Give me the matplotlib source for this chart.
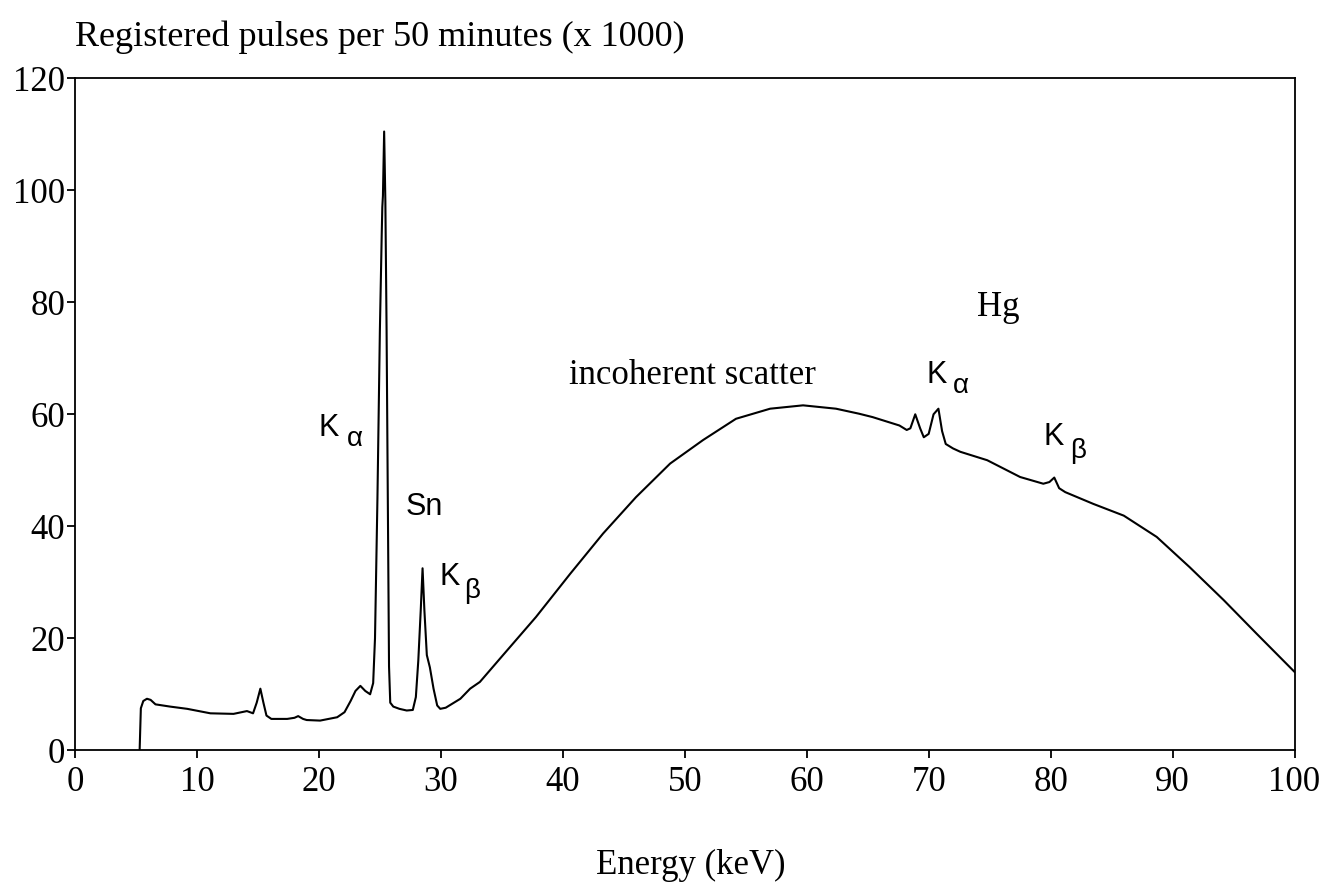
import numpy as np
import matplotlib
matplotlib.use('Agg')
import matplotlib.pyplot as plt

# Spectrum (energy in keV, registered pulses x 1000)
energy = [5.3, 5.4, 5.6, 5.9, 6.2, 6.6, 7.8, 9.2, 11.1, 13.0, 14.1, 14.6, 14.9,
          15.2, 15.45, 15.7, 16.1, 17.4, 18.0, 18.3, 18.7, 19.0, 20.1, 21.5,
          22.1, 22.6, 23.0, 23.4, 23.8, 24.2, 24.45, 24.6, 24.8, 25.0, 25.15,
          25.2, 25.25, 25.35, 25.45, 25.55, 25.65, 25.75, 25.85, 26.1, 26.6,
          27.2, 27.7, 27.95, 28.15, 28.35, 28.5, 28.65, 28.85, 29.1, 29.4,
          29.7, 29.95, 30.4, 31.6, 32.4, 33.2, 35.1, 37.8, 40.6, 43.3, 46.0,
          48.8, 51.5, 54.2, 57.0, 59.7, 62.4, 64.3, 65.4, 67.6, 68.2, 68.5,
          68.9, 69.3, 69.6, 70.0, 70.4, 70.8, 71.1, 71.4, 72.0, 72.6, 74.8,
          77.5, 79.4, 79.9, 80.3, 80.7, 81.2, 83.5, 86.0, 88.7, 91.4, 94.2,
          96.9, 100.0]
counts = [0, 7.5, 8.8, 9.2, 9.0, 8.2, 7.8, 7.4, 6.6, 6.5, 7.0, 6.6, 8.5,
          11.0, 8.5, 6.2, 5.6, 5.6, 5.8, 6.1, 5.6, 5.4, 5.3, 5.9,
          6.8, 8.8, 10.6, 11.5, 10.6, 10.0, 12.0, 20.0, 45.0, 75.0, 92.0,
          97.0, 99.0, 110.5, 98.0, 75.0, 45.0, 15.0, 8.5, 7.8, 7.4,
          7.1, 7.2, 9.5, 16.0, 25.0, 32.5, 25.0, 17.0, 14.8, 11.0,
          8.0, 7.4, 7.6, 9.2, 11.0, 12.2, 17.0, 23.8, 31.5, 38.7, 45.2,
          51.2, 55.4, 59.2, 61.0, 61.6, 61.0, 60.1, 59.5, 58.0, 57.2, 57.5,
          60.0, 57.5, 55.9, 56.5, 60.0, 61.0, 57.0, 54.7, 53.9, 53.3, 51.8,
          48.8, 47.6, 47.9, 48.7, 46.8, 46.1, 44.0, 41.9, 38.1, 32.7, 26.8,
          20.8, 14.0]

x_ticks = [0, 10, 20, 30, 40, 50, 60, 70, 80, 90, 100]
y_ticks = [0, 20, 40, 60, 80, 100, 120]

serif = 'Liberation Serif'
sans = 'Liberation Sans'

fig = plt.figure(figsize=(13.25, 8.9), dpi=100)
ax = fig.add_axes([0.0566, 0.157, 0.9204, 0.755])

ax.plot(energy, counts, color='black', lw=1.5)

ax.set_xlim(0, 100)
ax.set_ylim(0, 120)
ax.set_xticks(x_ticks)
ax.set_yticks(y_ticks)
ax.set_xticklabels([str(t) for t in x_ticks], family=serif, fontsize=25)
ax.set_yticklabels([str(t) for t in y_ticks], family=serif, fontsize=25)
ax.tick_params(direction='out', length=6, width=1.3, pad=5)
ax.tick_params(axis='y', pad=1)
for s in ax.spines.values():
    s.set_linewidth(1.3)

# titles
fig.text(0.0566, 0.958, 'Registered pulses per 50 minutes (x 1000)',
         family=serif, fontsize=26, ha='left', va='center')
fig.text(0.521, 0.028, 'Energy (keV)', family=serif, fontsize=25,
         ha='center', va='center')

# peak annotations
ax.text(20.0, 57.5, 'K', family=sans, fontsize=22, ha='left', va='center')
ax.text(22.3, 55.5, 'α', family=sans, fontsize=20, ha='left', va='center')
ax.text(27.1, 43.5, 'Sn', family=sans, fontsize=22, ha='left', va='center')
ax.text(29.9, 31.0, 'K', family=sans, fontsize=22, ha='left', va='center')
ax.text(31.9, 28.5, 'β', family=sans, fontsize=20, ha='left', va='center')
ax.text(50.6, 67.0, 'incoherent scatter', family=serif, fontsize=25,
        ha='center', va='center')
ax.text(74.0, 79.0, 'Hg', family=serif, fontsize=25, ha='left', va='center')
ax.text(69.8, 67.0, 'K', family=sans, fontsize=22, ha='left', va='center')
ax.text(72.0, 65.0, 'α', family=sans, fontsize=20, ha='left', va='center')
ax.text(79.4, 56.0, 'K', family=sans, fontsize=22, ha='left', va='center')
ax.text(81.6, 53.5, 'β', family=sans, fontsize=20, ha='left', va='center')

fig.savefig('out.png', dpi=100)
